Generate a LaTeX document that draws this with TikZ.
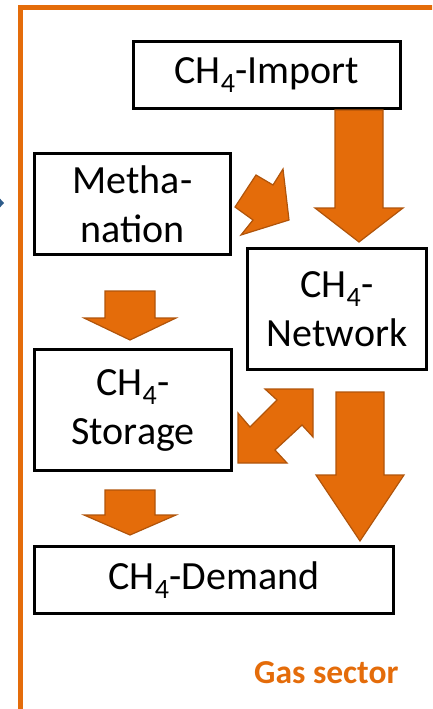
\documentclass[tikz,border=0pt]{standalone}
\usepackage{fontspec}
\setmainfont{Carlito}
\definecolor{gasorange}{HTML}{E46C0A}
\definecolor{arrowedge}{HTML}{B0540A}
\definecolor{tipblue}{HTML}{2E5C8A}
\begin{document}
\begin{tikzpicture}[x=1pt,y=-1pt,
  box/.style={draw=black,line width=3pt,rectangle,inner sep=0pt,align=center,font=\fontsize{40}{49}\selectfont},
  blockarrow/.style={fill=gasorange,draw=arrowedge,line width=1.2pt,line join=miter}]
\useasboundingbox (0,0) rectangle (432,709);
\begin{scope}
\clip (0,0) rectangle (432,709);
\draw[gasorange,line width=5pt] (20.5,7.5) rectangle (450,711);
\fill[tipblue] (-8,190) -- (4,203) -- (-8,216) -- cycle;
\end{scope}
\node[box,minimum width=267pt,minimum height=67pt] (import) at (267,75) {CH\textsubscript{4}-Import};
\node[box,minimum width=196pt,minimum height=101pt] (meth) at (132.5,204) {Metha-\\nation};
\node[box,minimum width=179pt,minimum height=121pt] (net) at (337,309) {CH\textsubscript{4}-\\Network};
\node[box,minimum width=197pt,minimum height=121pt] (stor) at (133,410) {CH\textsubscript{4}-\\Storage};
\node[box,minimum width=359pt,minimum height=67pt] (dem) at (214,580) {CH\textsubscript{4}-Demand};
\node[anchor=base east,text=gasorange,font=\bfseries\fontsize{33.5}{40}\selectfont] (label) at (402,683) {Gas sector};
% block arrows
\draw[blockarrow] (335,110) -- (383,110) -- (383,208) -- (403,208) -- (359,242) -- (315,208) -- (335,208) -- cycle;
\draw[blockarrow] (105,291) -- (155,291) -- (155,318) -- (176,318) -- (130,340) -- (84,318) -- (105,318) -- cycle;
\draw[blockarrow] (105,490) -- (155,490) -- (155,515) -- (176,515) -- (130,535) -- (84,515) -- (105,515) -- cycle;
\draw[blockarrow] (336,392) -- (384,392) -- (384,475) -- (404,475) -- (360,541) -- (316,475) -- (336,475) -- cycle;
\draw[blockarrow] (256,175) -- (273,185) -- (283,169) -- (289,220) -- (241,235) -- (253,220) -- (235,207) -- cycle;
\draw[blockarrow] (265,389) -- (313,389) -- (313,437) -- (302,425) -- (275,450) -- (287,463) -- (238,463) -- (238,413) -- (250,427) -- (277,400) -- cycle;
\end{tikzpicture}
\end{document}
